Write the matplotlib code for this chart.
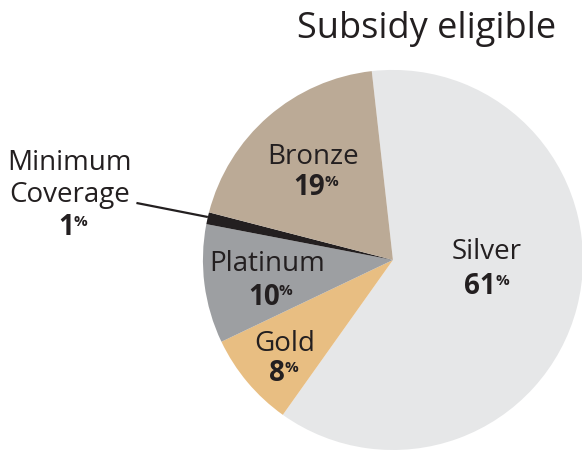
import matplotlib.pyplot as plt

# Dados do gráfico
categorias = ["Silver", "Gold", "Platinum", "Minimum Coverage", "Bronze"]
valores = [61, 8, 10, 1, 19]
cores = ["#E6E7E8", "#E8BE82", "#9D9FA2", "#231F20", "#BBAA96"]
titulo = "Subsidy eligible"

# Posições dos rótulos (em unidades do raio da pizza)
pos_nome = {"Silver": (0.495, 0.04), "Gold": (-0.57, -0.44),
            "Platinum": (-0.66, -0.02), "Bronze": (-0.42, 0.54)}
pos_num = {"Silver": (0.46, -0.14), "Gold": (-0.61, -0.60),
           "Platinum": (-0.68, -0.195), "Bronze": (-0.44, 0.38)}

plt.rcParams['font.family'] = ['Open Sans', 'DejaVu Sans']
COR_TEXTO = "#231F20"

fig = plt.figure(figsize=(5.82, 4.5), dpi=100)
ax = fig.add_axes([0, 0, 1, 1])

ax.pie(valores, colors=cores, startangle=96.4, counterclock=False,
       radius=1.0, wedgeprops=dict(linewidth=0))

ax.set_xlim(-2.068, 0.995)
ax.set_ylim(-1.0, 1.368)
ax.set_aspect('auto')
ax.axis('off')


def rotulo_pct(x, y, valor):
    t = ax.text(x, y, f"{valor}", fontsize=20, fontweight='bold',
                color=COR_TEXTO, ha='center', va='center')
    ax.annotate("%", xy=(1, 0.95), xycoords=t, xytext=(-0.5, 0),
                textcoords='offset points', fontsize=11, fontweight='bold',
                color=COR_TEXTO, ha='left', va='top')


for cat, val in zip(categorias, valores):
    if cat in pos_nome:
        x, y = pos_nome[cat]
        ax.text(x, y, cat, fontsize=20, color=COR_TEXTO, ha='center', va='center')
        x, y = pos_num[cat]
        rotulo_pct(x, y, val)

# Minimum Coverage fica fora, com linha de chamada
ax.text(-1.70, 0.51, "Minimum", fontsize=20, color=COR_TEXTO, ha='center', va='center')
ax.text(-1.70, 0.34, "Coverage", fontsize=20, color=COR_TEXTO, ha='center', va='center')
rotulo_pct(-1.72, 0.17, valores[categorias.index("Minimum Coverage")])
ax.plot([-1.35, -0.974], [0.30, 0.226], color=COR_TEXTO, linewidth=1.6,
        solid_capstyle='butt')

ax.text(0.179, 1.168, titulo, fontsize=26, color=COR_TEXTO,
        ha='center', va='baseline')

fig.savefig("out.png", dpi=100)
